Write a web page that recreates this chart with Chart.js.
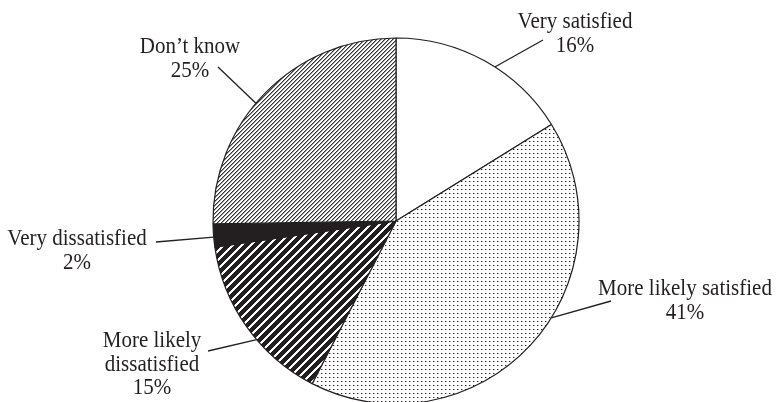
<!DOCTYPE html>
<html>
<head>
<meta charset="utf-8">
<script src="https://cdn.jsdelivr.net/npm/chart.js@4.4.0/dist/chart.umd.min.js"></script>
<style>
  html, body { margin: 0; padding: 0; background: #fff; }
  #wrap { width: 777px; height: 402px; position: relative; }
</style>
</head>
<body>
<div id="wrap"><canvas id="myChart"></canvas></div>
<script>

// Chart data

const labels = ['Very satisfied', 'More likely satisfied', 'More likely dissatisfied', 'Very dissatisfied', 'Don\u2019t know'];
const values = [16, 41, 15, 2, 25];
const labelLines = [
    ['Very satisfied'],
    ['More likely satisfied'],
    ['More likely', 'dissatisfied'],
    ['Very dissatisfied'],
    ['Don\u2019t know']
];

// Label placement (text centre x, first baseline y, leader start, angle shift in degrees)
const labelPos = [
    { x: 575, y: 28,  lx: 543, ly: 40,  shift: 3.6 },
    { x: 685, y: 295, lx: 611, ly: 301, shift: -10.8 },
    { x: 152, y: 347, lx: 208, ly: 351, shift: -5 },
    { x: 77,  y: 245, lx: 156, ly: 242, shift: -0.5 },
    { x: 190, y: 53,  lx: 218, ly: 67,  shift: -4.5 }
];

const ink = '#231f20';

// Fill patterns

function makeTile(w, h, draw){
    const c = document.createElement('canvas');
    c.width = w; c.height = h;
    const g = c.getContext('2d');
    draw(g);
    return document.createElement('canvas').getContext('2d').createPattern(c, 'repeat');
}

const dots = makeTile(4, 4, g => {
    g.fillStyle = '#fff';
    g.fillRect(0, 0, 4, 4);
    g.fillStyle = '#222';
    g.fillRect(1, 1, 1, 1);
    g.fillStyle = '#b0b0b0';
    g.fillRect(2, 1, 1, 1);
});

const fineHatch = makeTile(4, 4, g => {
    g.fillStyle = '#fff';
    g.fillRect(0, 0, 4, 4);
    for (let y = 0; y < 4; y++) {
        g.fillStyle = '#333';
        g.fillRect(3 - y, y, 1, 1);
        g.fillStyle = '#999';
        g.fillRect((4 - y) % 4, y, 1, 1);
    }
});

const boldHatch = makeTile(9, 9, g => {
    g.fillStyle = ink;
    g.fillRect(0, 0, 9, 9);
    g.fillStyle = '#fff';
    for (let y = 0; y < 9; y++) {
        for (let k = 0; k < 3; k++) {
            g.fillRect((8 - y + k + 9) % 9, y, 1, 1);
        }
    }
});

const fills = ['#ffffff', dots, boldHatch, ink, fineHatch];

// Labels + leader lines

const labelPlugin = {
    id: 'pieLabels',
    afterDraw(chart){
        const ctx = chart.ctx;
        const arcs = chart.getDatasetMeta(0).data;
        ctx.save();
        arcs.forEach((arc, i) => {
            const p = labelPos[i];
            const { x, y, startAngle, endAngle, outerRadius } = arc.getProps(['x', 'y', 'startAngle', 'endAngle', 'outerRadius'], true);
            const a = (startAngle + endAngle) / 2 + p.shift * Math.PI / 180;
            const ex = x + Math.cos(a) * outerRadius;
            const ey = y + Math.sin(a) * outerRadius;

            ctx.strokeStyle = ink;
            ctx.lineWidth = 1.3;
            ctx.beginPath();
            ctx.moveTo(p.lx, p.ly);
            ctx.lineTo(ex, ey);
            ctx.stroke();

            ctx.fillStyle = ink;
            ctx.font = '21px "Liberation Serif", "Times New Roman", serif';
            ctx.textAlign = 'center';
            ctx.textBaseline = 'alphabetic';
            const lines = labelLines[i].concat([values[i] + '%']);
            lines.forEach((t, k) => {
                // slightly taller glyphs, like the printed original
                ctx.save();
                ctx.translate(p.x, p.y + k * 23.5);
                ctx.scale(1, 1.08);
                ctx.fillText(t, 0, 0);
                ctx.restore();
            });
        });
        ctx.restore();
    }
};

const ctx = document.getElementById('myChart');

const myChart = new Chart(ctx, {
    type: 'pie',
    data: {
        labels: labels,
        datasets: [{
            data: values,
            backgroundColor: fills,
            borderColor: ink,
            borderWidth: 1.2,
            radius: 183
        }]
    },
    options: {
        responsive: true,
        maintainAspectRatio: false,
        animation: false,
        layout: {
            padding: { top: 40, bottom: 0, left: 15, right: 0 }
        },
        plugins: {
            legend: { display: false },
            tooltip: { enabled: false }
        }
    },
    plugins: [labelPlugin]
});

</script>
</body>
</html>
